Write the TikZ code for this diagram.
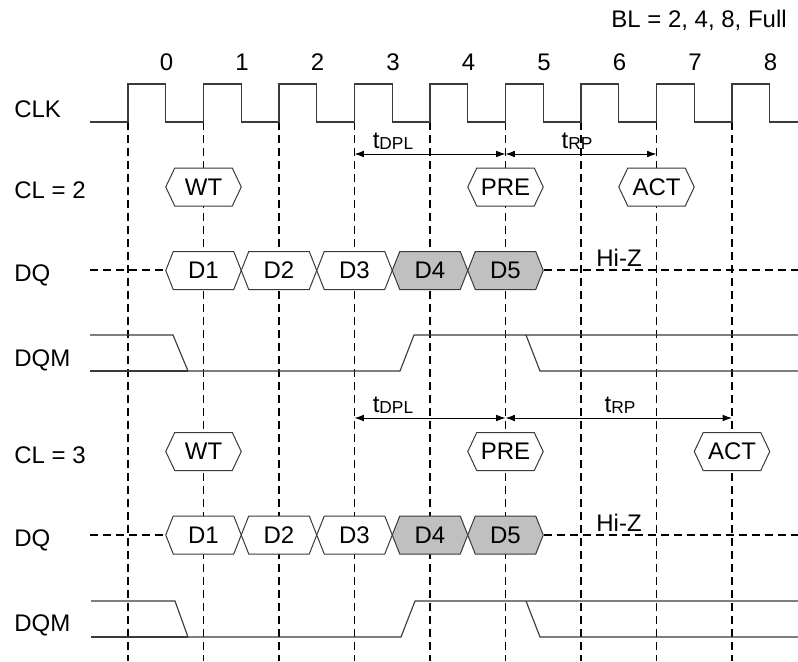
\documentclass[tikz,border=0pt]{standalone}
\usepackage{fontspec}
\setmainfont{Liberation Sans}
\usetikzlibrary{arrows.meta}
\definecolor{lineg}{HTML}{3A3A3A}
\definecolor{boxg}{HTML}{C0C0C0}
\tikzset{
  gridline/.style={draw=black, line width=1.1pt, dash pattern=on 6pt off 3.75pt},
  sigline/.style={draw=lineg, line width=0.85pt},
  hexline/.style={draw=lineg, line width=0.75pt},
  hextext/.style={inner sep=0pt, font=\fontsize{18}{20}\selectfont},
  lbl/.style={inner sep=0pt, anchor=base west, font=\fontsize{18}{20}\selectfont},
  num/.style={inner sep=0pt, anchor=base, font=\fontsize{18}{20}\selectfont},
  tlbl/.style={inner sep=0pt, anchor=base, font=\fontsize{18}{20}\selectfont},
  dimarrow/.style={draw=black, line width=0.7pt, {Latex[length=7pt,width=5pt]}-{Latex[length=7pt,width=5pt]}},
}
\newcommand\subsc[1]{\raisebox{-0.15ex}{\fontsize{13}{14}\selectfont #1}}
\newcommand\myhex[6]{%
  \draw[hexline, fill=#5, shift={(#2,#3)}] (-37.75,0) -- (-37.75+#4,-19) -- (37.75-#4,-19) -- (37.75,0) -- (37.75-#4,19) -- (-37.75+#4,19) -- cycle;
  \node[hextext] (#1) at (#2,#3) {#6};}
\begin{document}
\begin{tikzpicture}[x=0.75pt,y=-0.75pt]
\useasboundingbox (0,0) rectangle (798,661);
% grid coordinates
\foreach \i in {0,...,8}{
  \coordinate (t\i) at ({128+75.5*\i},122);
  \coordinate (b\i) at ({128+75.5*\i},661);
}
% dashed verticals
\foreach \i in {0,...,8}{
  \draw[gridline] (t\i) -- (b\i);
}
% clock numbers
\foreach \i in {0,...,8}{
  \node[num] (n\i) at ({166.5+75.5*\i},70) {\i};
}
\node[inner sep=0pt, anchor=base east, font=\fontsize{18}{20}\selectfont] (bl) at (787,27) {BL = 2, 4, 8, Full};
% row labels
\node[lbl] (lclk) at (14,117) {CLK};
\node[lbl] (lcl2) at (14,198) {CL = 2};
\node[lbl] (ldq1) at (14,281.5) {DQ};
\node[lbl] (ldqm1) at (14,366.5) {DQM};
\node[lbl] (lcl3) at (14,463) {CL = 3};
\node[lbl] (ldq2) at (14,546.5) {DQ};
\node[lbl] (ldqm2) at (14,631.5) {DQM};
% clock
\draw[sigline] (90,122) foreach \i in {0,...,8} { -- ({128+75.5*\i},122) -- ++(0,-38) -- ++(37.75,0) -- ++(0,38) } -- (798,122);
% timing arrows CL=2
\coordinate (p3) at (354.5,154);
\coordinate (p5) at (505.5,154);
\coordinate (p7) at (656.5,154);
\draw[dimarrow] (p3) -- (p5);
\draw[dimarrow] (p5) -- (p7);
\node[tlbl] (tdpl1) at (393,148) {t\subsc{DPL}};
\node[tlbl] (trp1) at (577,148) {t\subsc{RP}};
% commands CL=2
\myhex{wt1}{203.5}{187}{9}{white}{WT}
\myhex{pre1}{505.5}{187}{9}{white}{PRE}
\myhex{act1}{656.5}{187}{9}{white}{ACT}
% DQ CL=2
\coordinate (dqa1) at (90,270);
\coordinate (dqb1) at (166,270);
\coordinate (dqc1) at (543.5,270);
\coordinate (dqd1) at (798,270);
\draw[gridline] (dqa1) -- (dqb1);
\draw[gridline] (dqc1) -- (dqd1);
\myhex{d11}{203.5}{270.5}{7.5}{white}{D1}
\myhex{d12}{279}{270.5}{7.5}{white}{D2}
\myhex{d13}{354.5}{270.5}{7.5}{white}{D3}
\myhex{d14}{430}{270.5}{7.5}{boxg}{D4}
\myhex{d15}{505.5}{270.5}{7.5}{boxg}{D5}
\node[tlbl] (hiz1) at (619,266) {Hi-Z};
% DQM CL=2
\draw[sigline] (90,335) -- (173,335) -- (188,371) -- (400,371) -- (414,335) -- (798,335);
\draw[sigline] (90,371) -- (188,371);
\draw[sigline] (526,335) -- (540,371) -- (798,371);
% timing arrows CL=3
\coordinate (q3) at (354.5,418);
\coordinate (q5) at (505.5,418);
\coordinate (q8) at (732,418);
\draw[dimarrow] (q3) -- (q5);
\draw[dimarrow] (q5) -- (q8);
\node[tlbl] (tdpl2) at (393,412) {t\subsc{DPL}};
\node[tlbl] (trp2) at (620,412) {t\subsc{RP}};
% commands CL=3
\myhex{wt2}{203.5}{451.5}{9}{white}{WT}
\myhex{pre2}{505.5}{451.5}{9}{white}{PRE}
\myhex{act2}{732}{451.5}{9}{white}{ACT}
% DQ CL=3
\coordinate (dqa2) at (90,535);
\coordinate (dqb2) at (166,535);
\coordinate (dqc2) at (543.5,535);
\coordinate (dqd2) at (798,535);
\draw[gridline] (dqa2) -- (dqb2);
\draw[gridline] (dqc2) -- (dqd2);
\myhex{d21}{203.5}{535}{7.5}{white}{D1}
\myhex{d22}{279}{535}{7.5}{white}{D2}
\myhex{d23}{354.5}{535}{7.5}{white}{D3}
\myhex{d24}{430}{535}{7.5}{boxg}{D4}
\myhex{d25}{505.5}{535}{7.5}{boxg}{D5}
\node[tlbl] (hiz2) at (619,531) {Hi-Z};
% DQM CL=3
\draw[sigline] (91,601) -- (175,601) -- (188,637) -- (401,637) -- (415,601) -- (798,601);
\draw[sigline] (91,637) -- (188,637);
\draw[sigline] (526,601) -- (540,637) -- (798,637);
\end{tikzpicture}
\end{document}
